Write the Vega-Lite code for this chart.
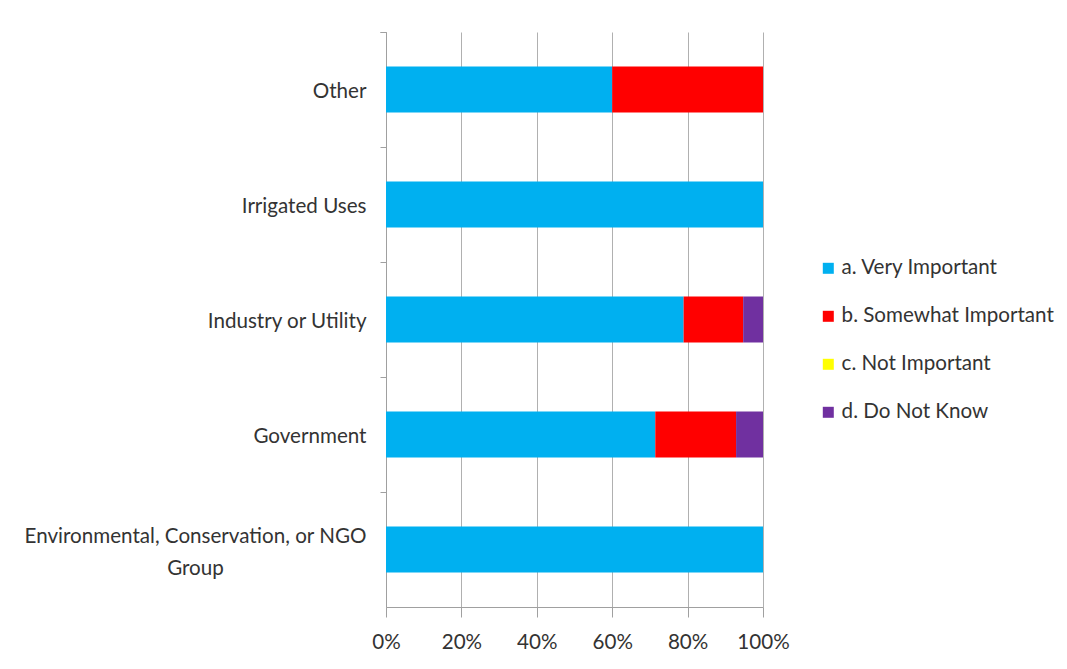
{
  "$schema": "https://vega.github.io/schema/vega-lite/v6.json",
  "autosize": {"type": "none"},
  "padding": {"left": 386, "top": 32, "right": 304, "bottom": 62},
  "width": 377,
  "height": 575,
  "background": "white",
  "config": {
    "font": "Lato",
    "view": {"stroke": null},
    "axis": {"labelFont": "Lato", "labelFontSize": 20.6, "labelColor": "#333333", "domainColor": "#a0a0a0", "tickColor": "#a0a0a0", "gridColor": "#b0b0b0"}
  },
  "data": {
    "values": [
      {"group": "Other", "response": "a. Very Important", "count": 3},
      {"group": "Other", "response": "b. Somewhat Important", "count": 2},
      {"group": "Irrigated Uses", "response": "a. Very Important", "count": 1},
      {"group": "Industry or Utility", "response": "a. Very Important", "count": 15},
      {"group": "Industry or Utility", "response": "b. Somewhat Important", "count": 3},
      {"group": "Industry or Utility", "response": "d. Do Not Know", "count": 1},
      {"group": "Government", "response": "a. Very Important", "count": 10},
      {"group": "Government", "response": "b. Somewhat Important", "count": 3},
      {"group": "Government", "response": "d. Do Not Know", "count": 1},
      {"group": "Environmental, Conservation, or NGO Group", "response": "a. Very Important", "count": 1}
    ]
  },
  "mark": {"type": "bar", "height": {"band": 0.4}},
  "encoding": {
    "y": {
      "field": "group",
      "type": "nominal",
      "sort": ["Other", "Irrigated Uses", "Industry or Utility", "Government", "Environmental, Conservation, or NGO Group"],
      "scale": {"paddingInner": 0, "paddingOuter": 0},
      "axis": {
        "title": null,
        "bandPosition": 0,
        "tickExtra": true,
        "ticks": true,
        "tickSize": 6,
        "labelBandPosition": 0.5,
        "grid": false,
        "labelLineHeight": 32,
        "labelLimit": 400,
        "labelExpr": "datum.value == 'Environmental, Conservation, or NGO Group' ? ['Environmental, Conservation, or NGO', 'Group'] : datum.value",
        "labelAlign": {"condition": {"test": "datum.value == 'Environmental, Conservation, or NGO Group'", "value": "center"}, "value": "right"},
        "labelPadding": {"condition": {"test": "datum.value == 'Environmental, Conservation, or NGO Group'", "value": 185}, "value": 14},
        "labelOffset": {"condition": {"test": "datum.value == 'Environmental, Conservation, or NGO Group'", "value": -13}, "value": 2.5}
      }
    },
    "x": {
      "field": "count",
      "type": "quantitative",
      "stack": "normalize",
      "scale": {"domain": [0, 1]},
      "axis": {
        "title": null,
        "format": "%",
        "values": [0, 0.2, 0.4, 0.6, 0.8, 1],
        "grid": true,
        "domain": true,
        "ticks": true,
        "labelFlush": false,
        "tickSize": 10,
        "labelPadding": 15
      }
    },
    "color": {
      "field": "response",
      "type": "nominal",
      "scale": {
        "domain": ["a. Very Important", "b. Somewhat Important", "c. Not Important", "d. Do Not Know"],
        "range": ["#00B0F0", "#FF0000", "#FFFF00", "#7030A0"]
      },
      "legend": {
        "title": null,
        "orient": "none",
        "legendX": 432,
        "legendY": 226,
        "padding": 0,
        "symbolType": "square",
        "symbolSize": 121,
        "symbolStrokeWidth": 0,
        "labelFont": "Lato",
        "labelFontSize": 20.6,
        "labelColor": "#333333",
        "labelOffset": 3,
        "rowPadding": 27,
        "labelLimit": 400
      }
    },
    "order": {"field": "response"}
  }
}
